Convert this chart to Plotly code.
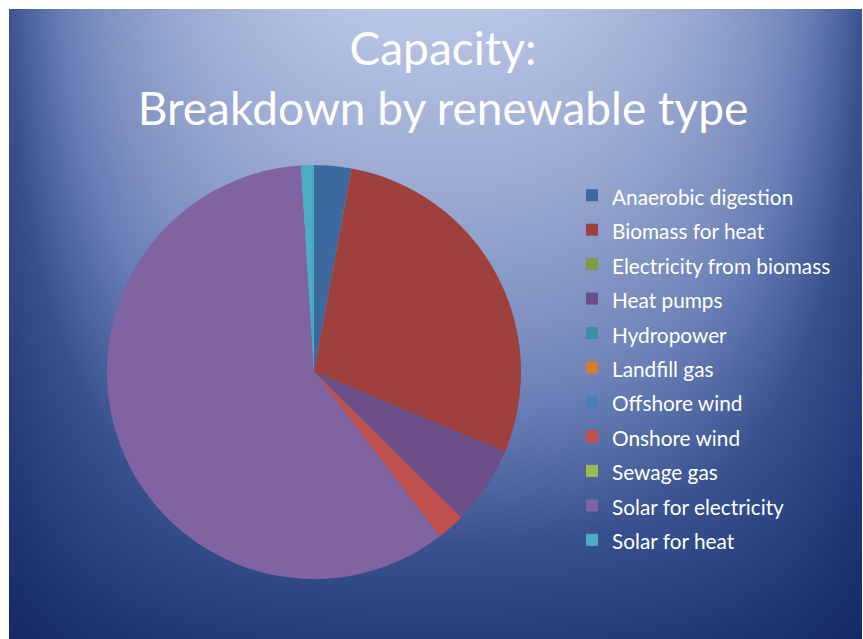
import base64
import struct
import zlib

import numpy as np
import plotly.graph_objects as go

# ---- data ----
labels = [
    "Anaerobic digestion",
    "Biomass for heat",
    "Electricity from biomass",
    "Heat pumps",
    "Hydropower",
    "Landfill gas",
    "Offshore wind",
    "Onshore wind",
    "Sewage gas",
    "Solar for electricity",
    "Solar for heat",
]
values = [2.9, 28.4, 0, 6.1, 0, 0, 0, 2.2, 0, 59.4, 1.0]
colors = [
    "#3d6a9e", "#9e413e", "#7f9a48", "#6a4f89", "#3b8fa4", "#d47c35",
    "#4a7ebb", "#c0504d", "#9bbb59", "#8064a2", "#4bacc6",
]
title_text = "Capacity:<br>Breakdown by renewable type"

W_FIG, H_FIG = 863, 639


# ---- background gradient image (style only) ----
def make_png(arr):
    h, w, _ = arr.shape
    raw = b"".join(b"\x00" + arr[i].tobytes() for i in range(h))

    def chunk(t, data):
        c = struct.pack(">I", len(data)) + t + data
        return c + struct.pack(">I", zlib.crc32(t + data) & 0xFFFFFFFF)

    return (b"\x89PNG\r\n\x1a\n"
            + chunk(b"IHDR", struct.pack(">IIBBBBB", w, h, 8, 2, 0, 0, 0))
            + chunk(b"IDAT", zlib.compress(raw, 9))
            + chunk(b"IEND", b""))


def hex2rgb(h):
    h = h.lstrip("#")
    return [int(h[i:i + 2], 16) for i in (0, 2, 4)]


x0, x1, y0, y1 = 9, 862, 9, 639
gw, gh = 214, 158
gx = np.linspace(x0, x1, gw)
gy = np.linspace(y0, y1, gh)
GX, GY = np.meshgrid(gx, gy)
fx = 1 - 0.65 * np.clip(np.abs(GX - 435) / 430.0, 0, 1) ** 2.6
fy = 1 - 0.8 * np.clip(GY / 639.0, 0, 1) ** 1.3
light = fx * fy
stop_pos = [0.0, 0.2, 0.35, 0.55, 0.65, 0.93, 1.0]
stop_col = ["#0c1f5e", "#263f7e", "#3a5390", "#6a80b8", "#7d90c0", "#aab8dc", "#b9c6e6"]
rgb = np.array([hex2rgb(c) for c in stop_col], dtype=float)
img = np.zeros((gh, gw, 3), dtype=np.uint8)
for ch in range(3):
    img[:, :, ch] = np.clip(np.interp(light, stop_pos, rgb[:, ch]), 0, 255).astype(np.uint8)
bg_src = "data:image/png;base64," + base64.b64encode(make_png(img)).decode()

# ---- figure ----
legend_labels = ['<span style="font-size:20.8px">%s</span>' % l for l in labels]

fig = go.Figure(
    go.Pie(
        labels=legend_labels,
        values=values,
        sort=False,
        direction="clockwise",
        rotation=0,
        textinfo="none",
        marker=dict(colors=colors, line=dict(width=0)),
        domain=dict(x=[107 / W_FIG, 521 / W_FIG], y=[60 / H_FIG, 474 / H_FIG]),
        hovertemplate="%{label}: %{value}<extra></extra>",
    )
)

fig.update_layout(
    width=W_FIG,
    height=H_FIG,
    margin=dict(l=0, r=0, t=0, b=0),
    paper_bgcolor="white",
    plot_bgcolor="white",
    title=dict(
        text=title_text,
        font=dict(family="Lato", size=46, color="white"),
        x=443 / W_FIG,
        xanchor="center",
        y=1 - 65 / H_FIG,
        yanchor="top",
        yref="container",
    ),
    legend=dict(
        x=572 / W_FIG,
        xanchor="left",
        y=1 - 173 / H_FIG,
        yanchor="top",
        bgcolor="rgba(0,0,0,0)",
        font=dict(family="Lato", size=24.2, color="white"),
    ),
    images=[
        dict(
            source=bg_src,
            xref="paper",
            yref="paper",
            x=x0 / W_FIG,
            y=1 - y0 / H_FIG,
            sizex=(x1 - x0) / W_FIG,
            sizey=(y1 - y0) / H_FIG,
            xanchor="left",
            yanchor="top",
            sizing="stretch",
            layer="below",
        )
    ],
)

fig.write_html("out.html")
